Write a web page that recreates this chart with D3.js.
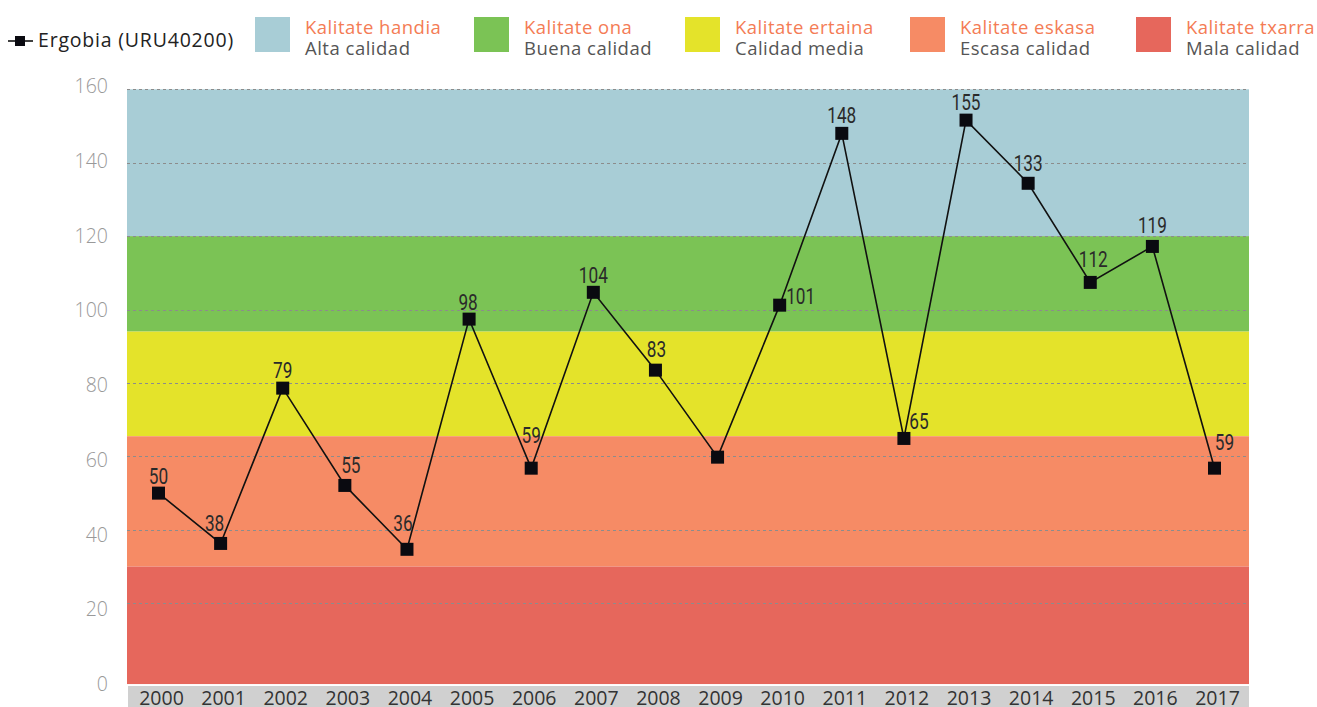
<!DOCTYPE html>
<html>
<head>
<meta charset="utf-8">
<script src="https://cdn.jsdelivr.net/npm/d3@7"></script>
<style>
	html, body { margin: 0; padding: 0; background: #fff; }
	svg { display: block; }
</style>
</head>
<body>
<div id="chart"></div>
<script>
// data
const years = ['2000', '2001', '2002', '2003', '2004', '2005', '2006', '2007', '2008',
	'2009', '2010', '2011', '2012', '2013', '2014', '2015', '2016', '2017']
const values = [50, 36.3, 78.6, 52.1, 34.7, 97.4, 56.8, 104.7, 83.5,
	59.8, 101.2, 148, 64.9, 151.6, 134.4, 107.4, 117.2, 56.8]
const labels = ['50', '38', '79', '55', '36', '98', '59', '104', '83',
	'', '101', '148', '65', '155', '133', '112', '119', '59']
const yTicks = [0, 20, 40, 60, 80, 100, 120, 140, 160]

// quality classes (lower, upper)
const bandNames = ['Kalitate handia', 'Kalitate ona', 'Kalitate ertaina', 'Kalitate eskasa', 'Kalitate txarra']
const bandNamesEs = ['Alta calidad', 'Buena calidad', 'Calidad media', 'Escasa calidad', 'Mala calidad']
const bandLow = [120, 94, 65.5, 30, -2]
const bandHigh = [160, 120, 94, 65.5, 30]
const bandColors = ['#a8cdd6', '#7bc355', '#e4e32a', '#f68b65', '#e6675c']

// hand placement of the value labels (dx, dy from the marker)
const labelNudge = [[0, -9], [-6, -12], [0, -10], [6, -12], [-4, -18], [-1, -9], [0, -25], [0, -9], [1, -13],
	[0, 0], [21, -1], [0, -10], [15, -9], [0, -10], [0, -12], [3, -15], [0, -13], [10, -18]]

const W = 1317, H = 707
const plot = {left: 127, right: 1249, top: 89, bottom: 685}
const FONT = '"Open Sans", sans-serif'

const svg = d3.select('#chart').append('svg').attr('width', W).attr('height', H)

const x = d3.scalePoint().domain(years).range([158.5, 1214.5])
const y = d3.scaleLinear().domain([0, 160]).range([676.7, 89.3])
// the tick labels sit on a slightly different spacing than the grid
const yLab = d3.scaleLinear().domain([0, 160]).range([684, 86.3])

// background bands
svg.append('g')
	.selectAll('rect')
	.data(bandNames)
	.enter()
	.append('rect')
	.attr('x', plot.left)
	.attr('width', plot.right - plot.left)
	.attr('y', (d, i) => y(bandHigh[i]))
	.attr('height', (d, i) => Math.min(plot.bottom, y(bandLow[i])) - y(bandHigh[i]))
	.attr('fill', (d, i) => bandColors[i])

// grid lines
svg.append('g')
	.selectAll('line')
	.data(yTicks.filter(d => d > 0))
	.enter()
	.append('line')
	.attr('x1', plot.left)
	.attr('x2', plot.right)
	.attr('y1', d => Math.round(y(d)) + 0.5)
	.attr('y2', d => Math.round(y(d)) + 0.5)
	.attr('stroke', '#8c8c8c')
	.attr('stroke-width', 1.2)
	.attr('stroke-dasharray', '3,3')

// y tick labels
svg.append('g')
	.selectAll('text')
	.data(yTicks)
	.enter()
	.append('text')
	.attr('x', 108)
	.attr('y', d => yLab(d))
	.attr('dy', '0.36em')
	.attr('text-anchor', 'end')
	.attr('font-family', FONT)
	.attr('font-weight', 300)
	.attr('font-size', 19.5)
	.attr('fill', '#999')
	.text(d => d)

// x axis strip
svg.append('rect')
	.attr('x', plot.left + 1)
	.attr('y', plot.bottom + 1)
	.attr('width', plot.right - plot.left - 1)
	.attr('height', H - plot.bottom - 1)
	.attr('fill', '#d0d0d0')

svg.append('g')
	.selectAll('text')
	.data(years)
	.enter()
	.append('text')
	.attr('x', d => x(d) + 3)
	.attr('y', 705)
	.attr('text-anchor', 'middle')
	.attr('font-family', FONT)
	.attr('font-size', 19.5)
	.attr('fill', '#333')
	.text(d => d)

// series line
const line = d3.line()
	.x((d, i) => x(years[i]))
	.y(d => y(d))

svg.append('path')
	.datum(values)
	.attr('d', line)
	.attr('fill', 'none')
	.attr('stroke', '#111')
	.attr('stroke-width', 1.6)

svg.append('g')
	.selectAll('rect')
	.data(values)
	.enter()
	.append('rect')
	.attr('x', (d, i) => x(years[i]) - 6.5)
	.attr('y', d => y(d) - 6.5)
	.attr('width', 13)
	.attr('height', 13)
	.attr('fill', '#0a0a10')

// value labels (condensed look)
svg.append('g')
	.selectAll('text')
	.data(values)
	.enter()
	.append('text')
	.attr('transform', (d, i) => {
		const px = x(years[i]) + labelNudge[i][0]
		const py = y(d) + labelNudge[i][1]
		return 'translate(' + px + ',' + py + ') scale(0.8,1)'
	})
	.attr('text-anchor', 'middle')
	.attr('font-family', 'Roboto, sans-serif')
	.attr('font-size', 21.5)
	.attr('fill', '#2a2a2a')
	.text((d, i) => labels[i])

// legend: series
const leg = svg.append('g')
leg.append('line')
	.attr('x1', 8).attr('x2', 33)
	.attr('y1', 41).attr('y2', 41)
	.attr('stroke', '#111').attr('stroke-width', 1.6)
leg.append('rect')
	.attr('x', 15).attr('y', 36).attr('width', 10).attr('height', 10)
	.attr('fill', '#0a0a10')
leg.append('text')
	.attr('x', 38).attr('y', 47)
	.attr('font-family', FONT)
	.attr('font-size', 19.5)
	.attr('letter-spacing', 0.8)
	.attr('fill', '#222')
	.text('Ergobia (URU40200)')

// legend: quality bands
const swatchX = [255, 474, 685, 910, 1136]
const bandLeg = svg.append('g')
	.selectAll('g')
	.data(bandNames)
	.enter()
	.append('g')
	.attr('transform', (d, i) => 'translate(' + swatchX[i] + ',0)')

bandLeg.append('rect')
	.attr('x', 0).attr('y', 17)
	.attr('width', 35).attr('height', 35)
	.attr('fill', (d, i) => bandColors[i])

bandLeg.append('text')
	.attr('x', 50).attr('y', 33.5)
	.attr('font-family', FONT)
	.attr('font-size', 18.5)
	.attr('letter-spacing', 0.5)
	.attr('fill', '#f47c55')
	.text(d => d)

bandLeg.append('text')
	.attr('x', 50).attr('y', 55)
	.attr('font-family', FONT)
	.attr('font-size', 18.5)
	.attr('letter-spacing', 0.5)
	.attr('fill', '#555')
	.text((d, i) => bandNamesEs[i])
</script>
</body>
</html>
